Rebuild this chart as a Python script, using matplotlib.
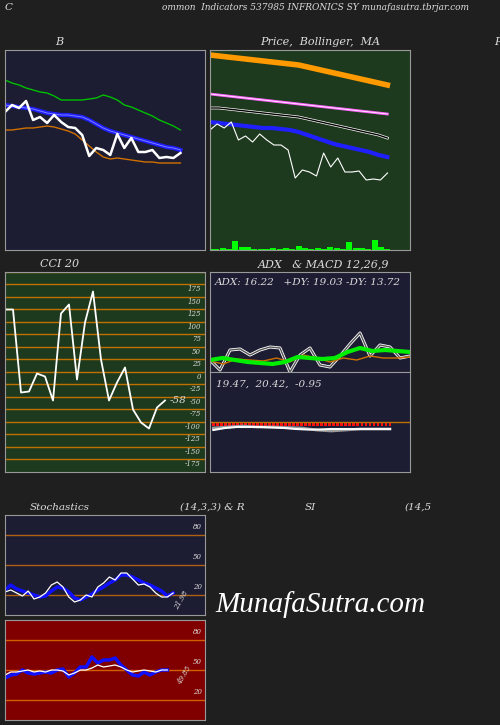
import matplotlib
matplotlib.use("Agg")
import matplotlib.pyplot as plt
import numpy as np

W, H = 500, 725
BG = "#1f1f1f"
NAVY = "#1c1c33"
GREEN_BG = "#1e3a1e"
plt.rcParams['font.family'] = ['DejaVu Serif']
FS = dict(color="#dddddd", style="italic", fontsize=7.5)

# ---- Bollinger panel (price units) ----
bb_upper = [170, 167, 165, 162, 160, 158, 157, 154, 150, 150, 150, 150, 151, 152, 155, 153, 150, 145, 143, 140, 137, 134, 130, 127, 124, 120]
bb_mid   = [145, 144, 143, 142, 141, 139, 137, 136, 135, 135, 134, 133, 130, 126, 122, 119, 117, 115, 113, 111, 109, 107, 105, 103, 102, 100]
bb_lower = [120, 120, 121, 122, 122, 123, 124, 123, 121, 119, 116, 110, 104, 98, 93, 91, 92, 91, 90, 89, 88, 88, 87, 87, 87, 87]
price    = [138, 145, 142, 149, 130, 133, 127, 135, 128, 123, 122, 115, 94, 102, 100, 95, 116, 102, 112, 98, 98, 100, 92, 93, 92, 97]

# ---- Price / MA panel ----
ma_long  = [195, 194, 193, 192, 191, 190, 189, 188, 187, 186, 185, 183, 181, 179, 177, 175, 173, 171, 169, 167, 165]
ma_mid   = [156, 155, 154, 153, 152, 151, 150, 149, 148, 147, 146, 145, 144, 143, 142, 141, 140, 139, 138, 137, 136]
ma_short = [142, 142, 141, 140, 139, 138, 137, 136, 135, 134, 133, 131, 129, 127, 125, 123, 121, 119, 117, 115, 112]
ma_blue  = [128, 127, 126, 125, 124, 123, 122, 122, 121, 120, 118, 115, 112, 109, 106, 104, 102, 100, 98, 95, 93]
price2   = [120, 126, 122, 128, 110, 114, 108, 116, 110, 105, 105, 100, 72, 80, 78, 74, 97, 83, 92, 78, 78, 79, 70, 71, 70, 77]
volume   = [1, 1, 2, 1, 9, 3, 3, 1, 1, 1, 2, 1, 2, 1, 4, 2, 1, 2, 1, 3, 2, 1, 8, 2, 2, 1, 10, 3, 1]

# ---- CCI ----
cci = [125, 125, -41, -39, -3, -9, -57, 117, 135, -15, 99, 161, 25, -57, -21, 9, -75, -101, -113, -71, -57]
cci_levels = [175, 150, 125, 100, 75, 50, 25, 0, -25, -50, -75, -100, -125, -150, -175]

# ---- ADX ----
adx   = [12, 14, 12, 10, 9, 8, 10, 15, 14, 13, 14, 20, 24, 21, 22, 21, 20]
pdi   = [12, 2, 22, 23, 17, 22, 25, 24, 0, 17, 24, 7, 5, 16, 28, 39, 16, 27, 25, 14, 16]
mdi   = [11, 8, 13, 12, 11, 14, 10, 17, 14, 10, 14, 12, 16, 14, 14, 15]
macd  = [-8, -6, -5, -5, -5, -5.5, -6, -7, -7.5, -7.5, -7, -7, -7, -7, -7, -7]
macd_sig = [-6, -5, -4, -5, -5, -5.5, -6, -8, -9, -8, -7, -7, -7]
macd_hist = [-4.5] * 45

# ---- Stochastics / RSI ----
stoch_k = [23, 25, 22, 19, 24, 16, 18, 22, 30, 33, 28, 18, 13, 15, 20, 18, 28, 32, 38, 35, 42, 42, 36, 30, 31, 28, 22, 18, 18, 22]
stoch_d = [25, 30, 26, 24, 22, 20, 18, 19, 24, 28, 27, 23, 17, 15, 18, 21, 25, 28, 32, 35, 40, 40, 38, 35, 32, 30, 27, 24, 19, 22]
rsi_w = [45, 48, 48, 49, 50, 48, 49, 48, 50, 50, 49, 45, 47, 50, 50, 52, 55, 53, 54, 55, 53, 50, 48, 49, 50, 49, 48, 50, 50]
rsi_b = [42, 45, 46, 50, 47, 46, 47, 48, 47, 50, 51, 43, 47, 53, 53, 63, 57, 60, 60, 62, 55, 50, 45, 44, 48, 45, 48, 50, 50]

fig = plt.figure(figsize=(W / 100, H / 100), dpi=100, facecolor=BG)

def pax(x0, y0, w, h, fc):
    ax = fig.add_axes([x0 / W, 1 - (y0 + h) / H, w / W, h / H], facecolor=fc)
    ax.set_xticks([]); ax.set_yticks([])
    for s in ax.spines.values():
        s.set_color("#999999")
    return ax

def ftext(x, y, s, **kw):
    d = dict(FS); d.update(kw)
    fig.text(x / W, 1 - y / H, s, va="center", **d)

ftext(5, 8, "C")
ftext(162, 8, "ommon  Indicators 537985 INFRONICS SY munafasutra.tbrjar.com", fontsize=6.5)
ftext(55, 42, "B", fontsize=8)
ftext(260, 42, "Price,  Bollinger,  MA", fontsize=8)
ftext(494, 42, "P", fontsize=8)

# Bollinger
ax = pax(5, 50, 200, 200, NAVY)
x = np.arange(len(price))
ax.plot(x, bb_upper, color="#00c000", lw=1)
ax.plot(x, bb_mid, color="#2020ff", lw=3)
ax.plot(x, bb_mid, color="#8888ff", lw=0.6)
ax.plot(x, bb_lower, color="#d07000", lw=1)
ax.plot(x, price, color="white", lw=1.8)
ax.set_xlim(0, 28.5); ax.set_ylim(0, 200)

# Price MA
ax = pax(210, 50, 200, 200, GREEN_BG)
xm = np.arange(len(ma_long)) * 1.33
ax.plot(xm, ma_long, color="#ff9900", lw=4)
ax.plot(xm, ma_mid, color="#ff66ff", lw=2)
ax.plot(xm, ma_mid, color="white", lw=0.5)
ax.plot(xm, ma_short, color="white", lw=2)
ax.plot(xm, ma_short, color="black", lw=1)
ax.plot(xm, ma_blue, color="#2020ff", lw=3)
xp = np.arange(len(price2))
ax.plot(xp * 1.065, price2, color="white", lw=0.8)
xv = np.arange(len(volume)) * 0.95
ax.bar(xv, volume, width=0.9, bottom=0, color="#00ff00")
ax.set_xlim(0, 30); ax.set_ylim(0, 200)

# CCI
ftext(40, 264, "CCI 20", fontsize=8)
ax = pax(5, 272, 200, 200, GREEN_BG)
for lv in cci_levels + [200]:
    ax.axhline(lv, color="#c07000", lw=1)
for lv in cci_levels:
    ax.text(24.5, lv - 10, str(lv), color="#dddddd", fontsize=5, style="italic", ha="right", va="center")
ax.plot(np.arange(len(cci)), cci, color="white", lw=1.3)
ax.text(20.6, -58, "-58", color="#dddddd", fontsize=7.5, style="italic", va="center")
ax.set_xlim(0, 25); ax.set_ylim(-200, 200)

# ADX
ftext(258, 264, "ADX   & MACD 12,26,9", fontsize=8)
ax = pax(210, 272, 200, 100, NAVY)
ax.plot(np.arange(len(pdi)), pdi, color="white", lw=2.2)
ax.plot(np.arange(len(pdi)), pdi, color="#555555", lw=1)
ax.plot(np.linspace(0, 20, len(mdi)), mdi, color="#d07000", lw=1)
ax.plot(np.linspace(0, 20, len(adx)), adx, color="#00ee00", lw=3)
ax.text(0.5, 89, "ADX: 16.22   +DY: 19.03 -DY: 13.72", color="#dddddd", fontsize=7.5, style="italic", va="center")
ax.set_xlim(0, 20); ax.set_ylim(0, 100)

# MACD
ax = pax(210, 372, 200, 100, NAVY)
ax.axhline(0, color="#c07000", lw=1)
xh = np.linspace(0.3, 16.2, len(macd_hist))
ax.bar(xh, macd_hist, width=0.25, color="#ff1010")
ax.plot(np.linspace(0.3, 16.2, len(macd_sig)), macd_sig, color="#999999", lw=2)
ax.plot(np.linspace(0.3, 16.2, len(macd)), macd, color="white", lw=1.5)
ax.text(0.5, 38, "19.47,  20.42,  -0.95", color="#dddddd", fontsize=7.5, style="italic", va="center")
ax.set_xlim(0, 18); ax.set_ylim(-50, 50)

# Stochastics
ftext(30, 507, "Stochastics")
ftext(180, 507, "(14,3,3) & R")
ftext(305, 507, "SI")
ftext(405, 507, "(14,5")
ax = pax(5, 515, 200, 100, NAVY)
for lv in (80, 50, 20):
    ax.axhline(lv, color="#b06010", lw=1)
    ax.text(34, lv + 8, str(lv), color="#dddddd", fontsize=5, style="italic", ha="right", va="center")
xs = np.arange(len(stoch_k))
ax.plot(xs, stoch_d, color="#1010ff", lw=2.5)
ax.plot(xs, stoch_k, color="white", lw=0.9)
ax.text(30.5, 15, "21.98", color="#dddddd", fontsize=5, style="italic", rotation=60, ha="center", va="center")
ax.set_xlim(0, 34.5); ax.set_ylim(0, 100)

# RSI
ax = pax(5, 620, 200, 100, "#800000")
for lv in (80, 50, 20):
    ax.axhline(lv, color="#d06000", lw=1)
    ax.text(34, lv + 8, str(lv), color="#dddddd", fontsize=5, style="italic", ha="right", va="center")
xr = np.arange(len(rsi_b))
ax.plot(xr, rsi_b, color="#1010ff", lw=2.5)
ax.plot(xr, rsi_w, color="white", lw=0.9)
ax.text(31, 45, "49.85", color="#dddddd", fontsize=5, style="italic", rotation=60, ha="center", va="center")
ax.set_xlim(0, 34.5); ax.set_ylim(0, 100)

ftext(215, 605, "MunafaSutra.com", color="white", fontsize=21, style="italic", family="Liberation Serif")

fig.savefig("out.png", dpi=100, facecolor=BG)
